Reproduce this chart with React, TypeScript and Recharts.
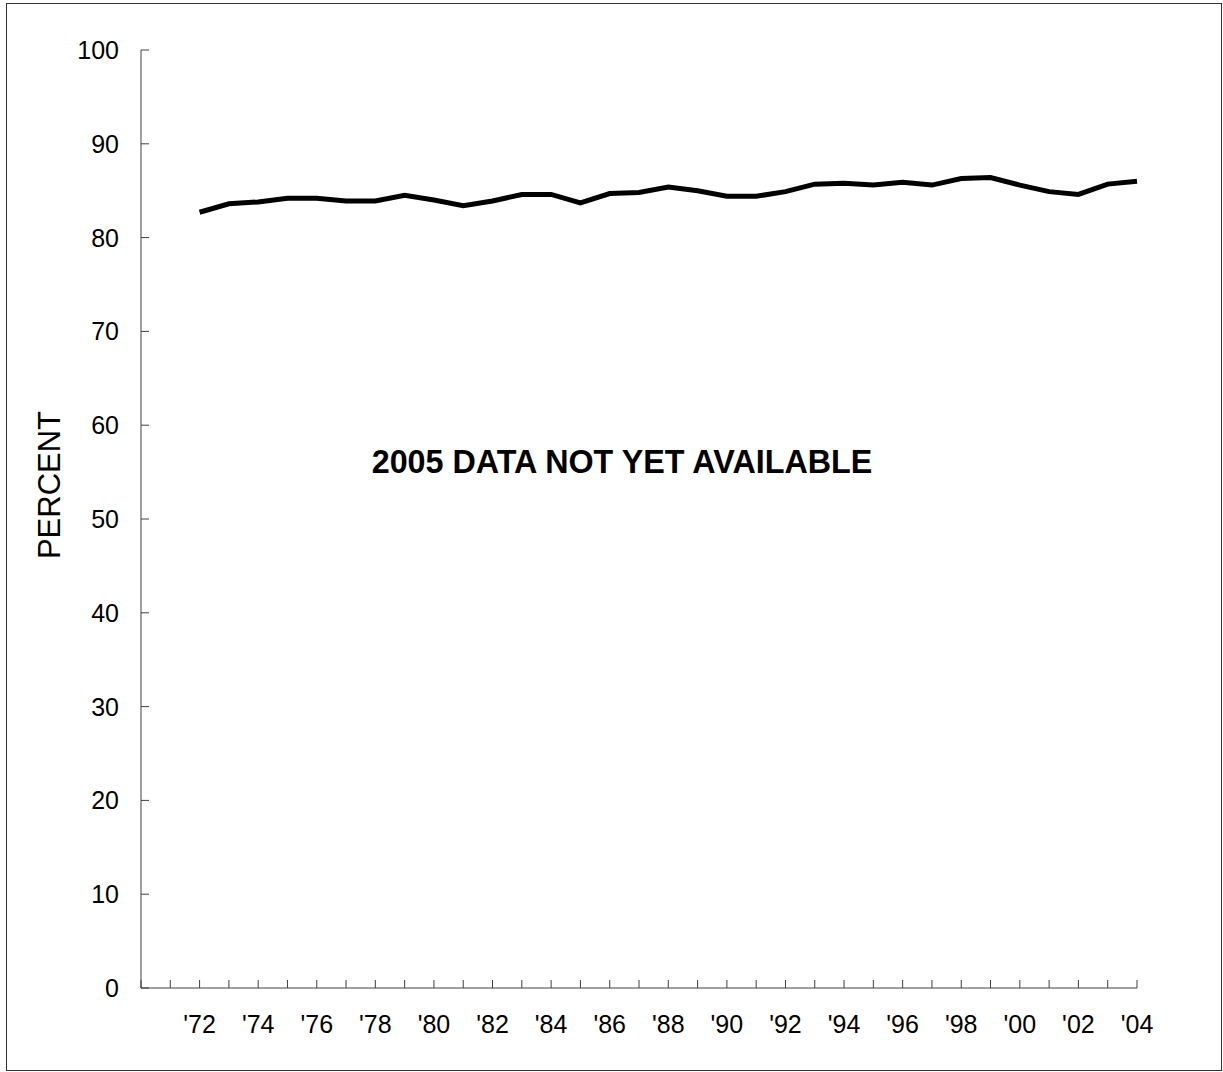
import React from 'react';
import { LineChart, Line, XAxis, YAxis } from 'recharts';

// School years on the category axis, '70 through '04
const years = [
  "'70", "'71", "'72", "'73", "'74", "'75", "'76", "'77", "'78", "'79",
  "'80", "'81", "'82", "'83", "'84", "'85", "'86", "'87", "'88", "'89",
  "'90", "'91", "'92", "'93", "'94", "'95", "'96", "'97", "'98", "'99",
  "'00", "'01", "'02", "'03", "'04",
];

// Percent values (no data for '70 and '71)
const percent = [
  null, null, 82.7, 83.6, 83.8, 84.2, 84.2, 83.9, 83.9, 84.5,
  84.0, 83.4, 83.9, 84.6, 84.6, 83.7, 84.7, 84.8, 85.4, 85.0,
  84.4, 84.4, 84.9, 85.7, 85.8, 85.6, 85.9, 85.6, 86.3, 86.4,
  85.6, 84.9, 84.6, 85.7, 86.0,
];

const labeledYears = ["'72", "'74", "'76", "'78", "'80", "'82", "'84", "'86", "'88",
  "'90", "'92", "'94", "'96", "'98", "'00", "'02", "'04"];

const yTicks = [0, 10, 20, 30, 40, 50, 60, 70, 80, 90, 100];

const data = years.map((year, i) => ({ year, pct: percent[i] }));

const FONT = '"Liberation Sans", Arial, Helvetica, sans-serif';
const AXIS_COLOR = '#404040';

// ticks point inward, so both axes draw their own little marks
const XTick = (props: any) => {
  const { x, y, payload } = props;
  return (
    <g>
      <line x1={x} y1={y} x2={x} y2={y - 8} stroke={AXIS_COLOR} strokeWidth={1} />
      {labeledYears.includes(payload.value) && (
        <text x={x} y={y + 45} textAnchor="middle" fill="#000" fontSize={25} fontFamily={FONT}>
          {payload.value}
        </text>
      )}
    </g>
  );
};

const YTick = (props: any) => {
  const { x, y, payload } = props;
  return (
    <g>
      <line x1={x} y1={y} x2={x + 8} y2={y} stroke={AXIS_COLOR} strokeWidth={1} />
      <text x={x - 22} y={y + 9} textAnchor="end" fill="#000" fontSize={25} fontFamily={FONT}>
        {payload.value}
      </text>
    </g>
  );
};

export default function App() {
  return (
    <div style={{ position: 'absolute', left: 0, top: 0, width: 1223, height: 1072, background: '#fff', fontFamily: FONT }}>
      <div
        style={{
          position: 'absolute', left: 6, top: 3, width: 1216, height: 1068,
          border: '1.5px solid #333', boxSizing: 'border-box',
        }}
      />
      <div style={{ position: 'absolute', left: 0, top: 0 }}>
        <LineChart
          width={1223}
          height={1072}
          data={data}
          margin={{ top: 50, right: 86, left: 81, bottom: 24 }}
        >
          <XAxis
            dataKey="year"
            interval={0}
            height={60}
            stroke={AXIS_COLOR}
            tickSize={0}
            tickMargin={0}
            tickLine={false}
            tick={<XTick />}
          />
          <YAxis
            domain={[0, 100]}
            ticks={yTicks}
            width={60}
            stroke={AXIS_COLOR}
            tickSize={0}
            tickMargin={0}
            tickLine={false}
            tick={<YTick />}
          />
          <Line
            type="linear"
            dataKey="pct"
            stroke="#000"
            strokeWidth={5}
            dot={false}
            activeDot={false}
            isAnimationActive={false}
          />
        </LineChart>
      </div>
      <div
        style={{
          position: 'absolute', left: 48.5, top: 485, fontSize: 31, color: '#000',
          transform: 'translate(-50%, -50%) rotate(-90deg)', whiteSpace: 'nowrap', lineHeight: 1,
        }}
      >
        PERCENT
      </div>
      <div
        style={{
          position: 'absolute', left: 622, top: 462, fontSize: 32.3, fontWeight: 700, color: '#000',
          transform: 'translate(-50%, -50%)', whiteSpace: 'nowrap', lineHeight: 1,
        }}
      >
        2005 DATA NOT YET AVAILABLE
      </div>
    </div>
  );
}
